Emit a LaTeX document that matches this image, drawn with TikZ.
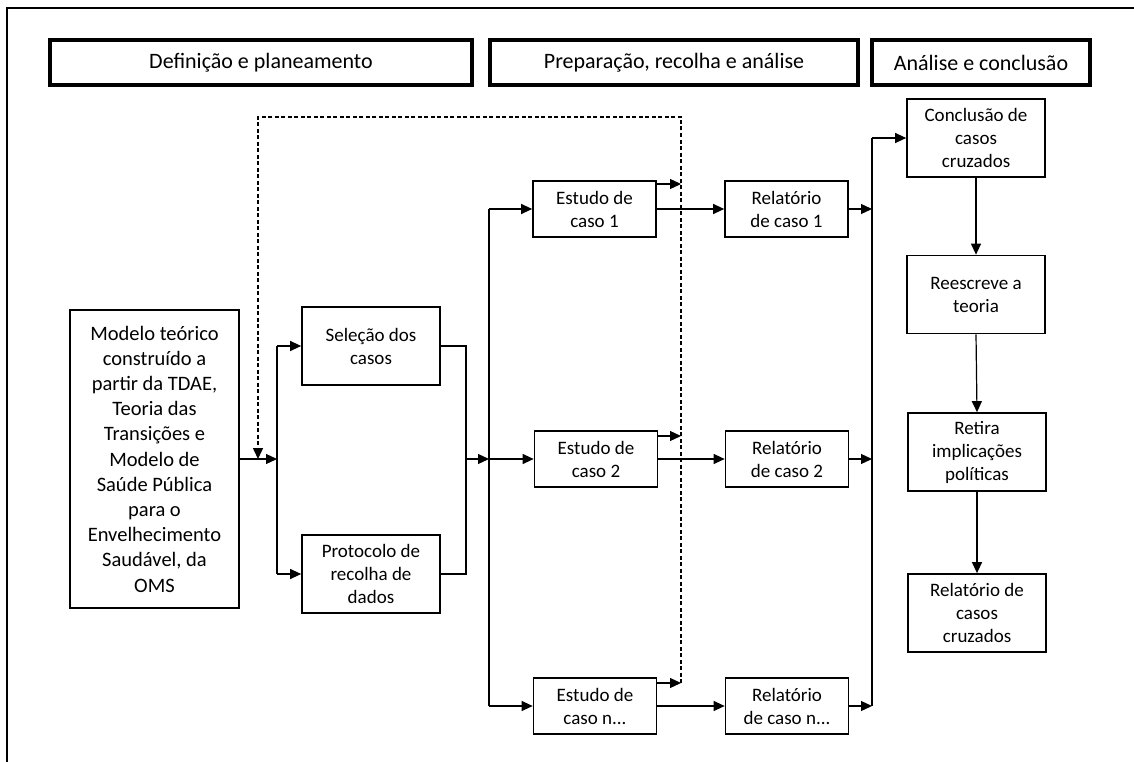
\documentclass[tikz,border=0pt]{standalone}
\usepackage{fontspec}
\setmainfont{Carlito}
\usetikzlibrary{arrows.meta,calc}
\begin{document}
\begin{tikzpicture}[x=1pt,y=-1pt,
  line width=1.2pt,
  tip/.style={-{Triangle[length=11pt,width=10pt]}},
  head/.style={draw,line width=4pt,minimum height=45pt,inner sep=0pt,
    font=\fontsize{22}{26}\selectfont},
  box/.style={draw,line width=1.7pt,align=center,inner sep=0pt,
    minimum width=138pt,minimum height=78pt,font=\fontsize{19}{23}\selectfont},
  small/.style={box,minimum width=123pt,minimum height=56pt},
  bus/.style={line width=2pt},
  feedback/.style={dash pattern=on 4pt off 2.5pt,line width=1.5pt}
]
\useasboundingbox (0,0) rectangle (1134,762);

% page frame
\draw[line width=2pt] (7,762) -- (7,8) -- (1134,8);

% phase headers
\node[head,minimum width=422pt] (h1) at (261,62.5) {Definição e planeamento};
\node[head,minimum width=368pt] (h2) at (674,62.5) {Preparação, recolha e análise};
\node[head,minimum width=218pt] (h3) at (981,62.5) {Análise e conclusão};

% theoretical model
\node[draw,line width=1.7pt,align=center,inner sep=0pt,minimum width=169pt,
  minimum height=298pt,font=\fontsize{20.5}{25.2}\selectfont] (model) at (154.5,459)
  {Modelo teórico\\construído a\\partir da TDAE,\\Teoria das\\Transições e\\Modelo de\\Saúde Pública\\para o\\Envelhecimento\\Saudável, da\\OMS};

% design steps
\node[box] (sel) at (371,346) {Seleção dos\\casos};
\node[box] (prot) at (371,574) {Protocolo de\\recolha de\\dados};

% case studies and reports
\node[small] (e1) at (594.5,209) {Estudo de\\caso 1};
\node[small] (e2) at (596,459) {Estudo de\\caso 2};
\node[small] (en) at (595,706) {Estudo de\\caso n...};
\node[small] (r1) at (786.5,209) {Relatório\\de caso 1};
\node[small] (r2) at (787,459) {Relatório\\de caso 2};
\node[small] (rn) at (787,706) {Relatório\\de caso n...};

% cross-case column
\node[box] (cc) at (976,138) {Conclusão de\\casos\\cruzados};
\node[box] (rt) at (976,294.5) {Reescreve a\\teoria};
\node[box] (ri) at (977,452) {Retira\\implicações\\políticas};
\node[box] (rc) at (977,613) {Relatório de\\casos\\cruzados};

% junction points
\coordinate (j1) at (277,459);
\coordinate (j1t) at (277,346);
\coordinate (j1b) at (277,574);
\coordinate (m1t) at (466,346);
\coordinate (m1b) at (466,574);
\coordinate (m1) at (466,459);
\coordinate (j2) at (489,459);
\coordinate (j2t) at (489,209);
\coordinate (j2b) at (489,706);
\coordinate (j3t) at (872,138);
\coordinate (j3a) at (872,209);
\coordinate (j3b) at (872,459);
\coordinate (j3c) at (872,706);
\coordinate (fb1) at (681,184);
\coordinate (fb2) at (681,436);
\coordinate (fb3) at (681,683);
\coordinate (fbtr) at (681,117);
\coordinate (fbtl) at (258,117);
\coordinate (fbend) at (258,459);

% feedback loop
\draw[feedback,tip] (fb3) -- (fbtr) -- (fbtl) -- (fbend);

% model to design steps
\draw[tip] (model.east) -- (j1);
\draw (j1t) -- (j1b);
\draw[tip] (j1t) -- (sel.west);
\draw[tip] (j1b) -- (prot.west);
\draw (sel.east) -- (m1t) -- (m1b) -- (prot.east);
\draw[tip] (m1) -- (j2);

% distribution to case studies
\draw (j2t) -- (j2b);
\draw[tip] (j2t) -- (e1.west);
\draw[tip] (j2) -- (e2.west);
\draw[tip] (j2b) -- (en.west);

% studies to reports
\draw[tip] (e1.east) -- (r1.west);
\draw[tip] (e2.east) -- (r2.west);
\draw[tip] (en.east) -- (rn.west);

% studies to feedback line
\draw[tip] ([yshift=25pt]e1.east) -- (fb1);
\draw[tip] ([yshift=23pt]e2.east) -- (fb2);
\draw[tip] ([yshift=23pt]en.east) -- (fb3);

% reports to collecting bus
\draw[tip] (r1.east) -- (j3a);
\draw[tip] (r2.east) -- (j3b);
\draw[tip] (rn.east) -- (j3c);
\draw[bus] (j3c) -- (j3t);
\draw[tip] (j3t) -- (cc.west);

% cross-case sequence
\draw[tip] (cc.south) -- (rt.north);
\draw[tip] (rt.south) -- (ri.north);
\draw[tip] (ri.south) -- (rc.north);
\end{tikzpicture}
\end{document}
